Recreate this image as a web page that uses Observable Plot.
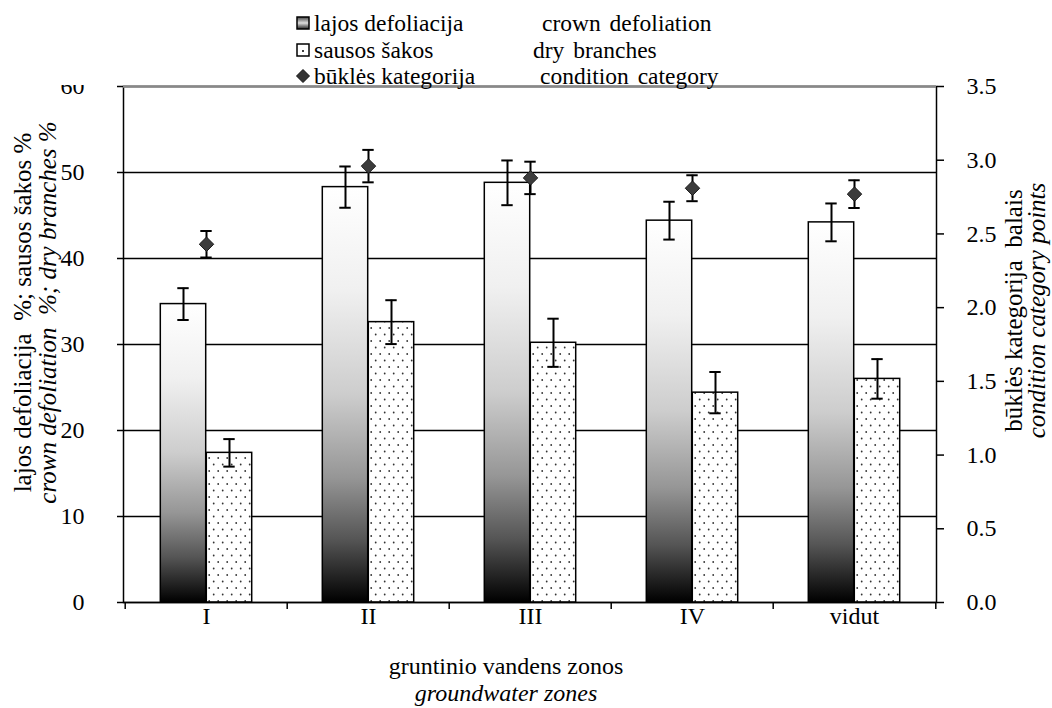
<!DOCTYPE html>
<html>
<head>
<meta charset="utf-8">
<script src="https://cdn.jsdelivr.net/npm/d3@7"></script>
<script src="https://cdn.jsdelivr.net/npm/@observablehq/plot@0.6"></script>
<style>
  body { margin: 0; background: #fff; font-family: "Liberation Serif", "Times New Roman", serif; color: #000; }
  #wrap { position: relative; width: 1052px; height: 708px; overflow: hidden; }
  #chart { position: absolute; left: 0; top: 0; }
  #legend { position: absolute; left: 50px; top: 0; width: 710px; height: 84px; background: #fff; z-index: 2; font-size: 23.5px; }
  #legend::before { content: ""; position: absolute; left: 0; top: 0; width: 70px; height: 85px; background: #fff; }
  .lrow { position: absolute; left: 0; height: 26px; width: 710px; }
  .lrow svg { position: absolute; top: 6px; }
  .lrow span { position: absolute; top: 0; line-height: 26px; white-space: nowrap; }
</style>
</head>
<body>
<div id="wrap">
  <div id="chart"></div>
  <div id="legend"></div>
</div>
<script>
// ---- data ----
const zones = ["I", "II", "III", "IV", "vidut"];
const crown = [34.7, 48.3, 48.8, 44.4, 44.2];
const crownErr = [1.85, 2.4, 2.6, 2.2, 2.2];
const dry = [17.4, 32.6, 30.2, 24.4, 26.0];
const dryErr = [1.6, 2.55, 2.8, 2.4, 2.3];
const cond = [2.43, 2.96, 2.88, 2.81, 2.77];
const condErr = [0.09, 0.11, 0.11, 0.088, 0.094];
const leftTicks = [0, 10, 20, 30, 40, 50, 60];
const rightTicks = [0, 0.5, 1, 1.5, 2, 2.5, 3, 3.5];
const gridVals = [10, 20, 30, 40, 50];
const leftTitle = ["lajos defoliacija  %; sausos šakos %", "crown defoliation  %; dry branches %"];
const rightTitle = ["būklės kategorija  balais", "condition category points"];
const xTitle = ["gruntinio vandens zonos", "groundwater zones"];
const legendLT = ["lajos defoliacija", "sausos šakos", "būklės kategorija"];
const legendEN = ["crown defoliation", "dry branches", "condition category"];

// ---- layout ----
const W = 1052, H = 708;
const ml = 123, mr = 116, mt = 86, mb = 106;
const bandW = (W - ml - mr) / zones.length;
const barW = 46;
const capW = 12;
const k = 60 / 3.5; // right axis (0–3.5) onto left axis (0–60)

const rows = zones.map((z, i) => ({
  zone: z,
  crown: crown[i], crownLo: crown[i] - crownErr[i], crownHi: crown[i] + crownErr[i],
  dry: dry[i], dryLo: dry[i] - dryErr[i], dryHi: dry[i] + dryErr[i],
  cond: cond[i] * k, condLo: (cond[i] - condErr[i]) * k, condHi: (cond[i] + condErr[i]) * k
}));

const capInset = bandW / 2 - capW / 2;
const errStyle = {stroke: "#000", strokeWidth: 2};
const titleStyle = {text: d => d, fontSize: 24, textAnchor: "middle", lineAnchor: "middle"};
const sideTitle = {...titleStyle, fontSize: 25, rotate: -90};

const svg = Plot.plot({
  width: W, height: H,
  marginLeft: ml, marginRight: mr, marginTop: mt, marginBottom: mb,
  style: {fontFamily: "'Liberation Serif', 'Times New Roman', serif", fontSize: "24px", background: "#fff", color: "#000", overflow: "visible"},
  x: {type: "band", domain: zones, padding: 0, axis: null, label: null},
  y: {domain: [0, 60], axis: null, label: null},
  marks: [
    Plot.frame({stroke: "#000", strokeWidth: 1.5}),
    Plot.ruleY(gridVals, {stroke: "#000", strokeWidth: 1.5}),
    Plot.ruleY([60], {stroke: "#888", strokeWidth: 2.5}),
    // bars
    Plot.barY(rows, {x: "zone", y: "crown", fill: "url(#gradCrown)", stroke: "#000", strokeWidth: 1.5,
      insetLeft: bandW / 2 - barW, insetRight: bandW / 2}),
    Plot.barY(rows, {x: "zone", y: "dry", fill: "url(#dotsPat)", stroke: "#000", strokeWidth: 1.5,
      insetLeft: bandW / 2, insetRight: bandW / 2 - barW}),
    // crown error bars
    Plot.ruleX(rows, {x: "zone", y1: "crownLo", y2: "crownHi", dx: -barW / 2, ...errStyle}),
    Plot.tickY(rows, {x: "zone", y: "crownLo", dx: -barW / 2, insetLeft: capInset, insetRight: capInset, ...errStyle}),
    Plot.tickY(rows, {x: "zone", y: "crownHi", dx: -barW / 2, insetLeft: capInset, insetRight: capInset, ...errStyle}),
    // dry error bars
    Plot.ruleX(rows, {x: "zone", y1: "dryLo", y2: "dryHi", dx: barW / 2, ...errStyle}),
    Plot.tickY(rows, {x: "zone", y: "dryLo", dx: barW / 2, insetLeft: capInset, insetRight: capInset, ...errStyle}),
    Plot.tickY(rows, {x: "zone", y: "dryHi", dx: barW / 2, insetLeft: capInset, insetRight: capInset, ...errStyle}),
    // condition error bars + diamonds
    Plot.ruleX(rows, {x: "zone", y1: "condLo", y2: "condHi", ...errStyle}),
    Plot.tickY(rows, {x: "zone", y: "condLo", insetLeft: capInset, insetRight: capInset, ...errStyle}),
    Plot.tickY(rows, {x: "zone", y: "condHi", insetLeft: capInset, insetRight: capInset, ...errStyle}),
    Plot.dot(rows, {x: "zone", y: "cond", symbol: "diamond2", r: 6.5, fill: "#3c3c3c", stroke: "#1a1a1a", strokeWidth: 1}),
    // x axis line
    Plot.ruleY([0], {stroke: "#000", strokeWidth: 1.5}),
    // axes
    Plot.axisY(leftTicks, {anchor: "left", tickSize: 6, tickPadding: 33, strokeWidth: 1.5, label: null}),
    Plot.axisY(rightTicks.map(v => v * k), {anchor: "right", tickSize: 7, tickPadding: 23, strokeWidth: 1.5, label: null,
      tickFormat: d => (d / k).toFixed(1)}),
    Plot.axisX({anchor: "bottom", tickSize: 0, tickPadding: 4, label: null}),
    Plot.axisX(zones, {anchor: "bottom", tickSize: 7, strokeWidth: 1.5, dx: -bandW / 2, tickFormat: () => "", label: null}),
    Plot.axisX(zones.slice(-1), {anchor: "bottom", tickSize: 7, strokeWidth: 1.5, dx: bandW / 2, tickFormat: () => "", label: null}),
    // axis titles
    Plot.text([leftTitle[0]], {frameAnchor: "left", dx: -101, dy: -32, ...sideTitle}),
    Plot.text([leftTitle[1]], {frameAnchor: "left", dx: -76, dy: -32, ...sideTitle, fontStyle: "italic"}),
    Plot.text([rightTitle[0]], {frameAnchor: "right", dx: 77, dy: -34, ...sideTitle}),
    Plot.text([rightTitle[1]], {frameAnchor: "right", dx: 100, dy: -34, ...sideTitle, fontStyle: "italic"}),
    Plot.text([xTitle[0]], {frameAnchor: "bottom", dx: -24, dy: 64, ...titleStyle}),
    Plot.text([xTitle[1]], {frameAnchor: "bottom", dx: -24, dy: 91, ...titleStyle, fontStyle: "italic"})
  ]
});

const defs = document.createElementNS("http://www.w3.org/2000/svg", "defs");
defs.innerHTML = `
  <linearGradient id="gradCrown" x1="0" y1="0" x2="0" y2="1">
    <stop offset="0" stop-color="#ffffff"/>
    <stop offset="0.25" stop-color="#f0f0f0"/>
    <stop offset="0.5" stop-color="#cdcdcd"/>
    <stop offset="0.7" stop-color="#969696"/>
    <stop offset="0.85" stop-color="#555555"/>
    <stop offset="1" stop-color="#000000"/>
  </linearGradient>
  <pattern id="dotsPat" width="9" height="13" patternUnits="userSpaceOnUse">
    <rect width="9" height="13" fill="#ffffff"/>
    <circle cx="2.2" cy="3" r="0.9" fill="#333"/>
    <circle cx="6.7" cy="9.5" r="0.9" fill="#333"/>
  </pattern>`;
svg.prepend(defs);
document.getElementById("chart").appendChild(svg);

// ---- legend ----
const legend = document.getElementById("legend");
const swatches = [
  `<svg width="14" height="14"><defs><linearGradient id="lg1" x1="0" y1="0" x2="0" y2="1"><stop offset="0" stop-color="#444"/><stop offset="0.5" stop-color="#ddd"/><stop offset="1" stop-color="#222"/></linearGradient></defs><rect x="1" y="1" width="12" height="12" fill="url(#lg1)" stroke="#000" stroke-width="1.5"/></svg>`,
  `<svg width="14" height="14"><rect x="1" y="1" width="12" height="12" fill="#fff" stroke="#000" stroke-width="1.5"/><circle cx="7" cy="8" r="1" fill="#000"/></svg>`,
  `<svg width="14" height="14"><path d="M7 0.5 L13.5 7 L7 13.5 L0.5 7 Z" fill="#333" stroke="#111" stroke-width="1"/></svg>`
];
const enX = [492, 483, 490];
legendLT.forEach((t, i) => {
  const row = document.createElement("div");
  row.className = "lrow";
  row.style.top = (10 + i * 26.5) + "px";
  row.innerHTML = swatches[i];
  row.querySelector("svg").style.left = "246px";
  const s1 = document.createElement("span");
  s1.style.left = "264px";
  s1.textContent = t;
  const s2 = document.createElement("span");
  s2.style.left = enX[i] + "px";
  s2.style.wordSpacing = "3px";
  s2.textContent = legendEN[i];
  row.append(s1, s2);
  legend.appendChild(row);
});
</script>
</body>
</html>
